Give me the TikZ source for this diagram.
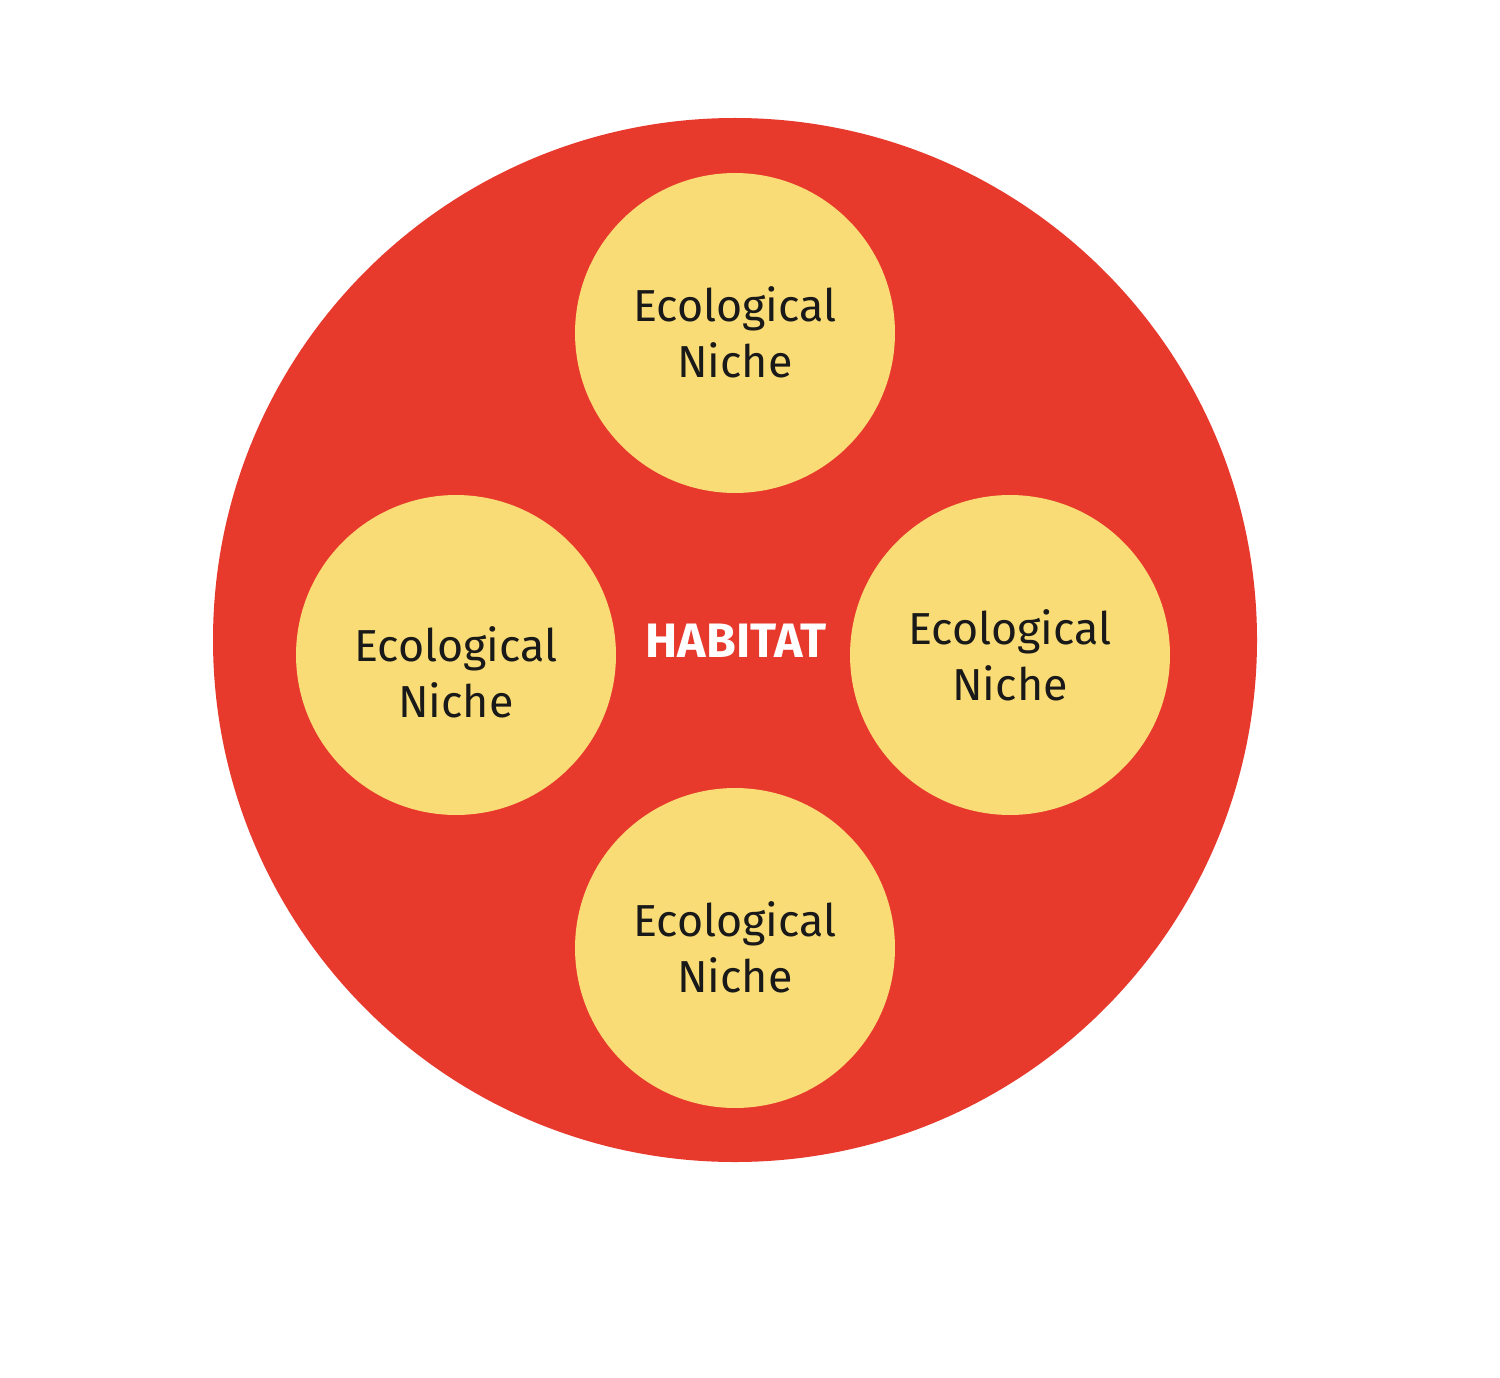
\documentclass[tikz,border=0pt]{standalone}
\usepackage{fontspec}
\setmainfont{Fira Sans}
\definecolor{habred}{HTML}{E8392D}
\definecolor{nicheyel}{HTML}{F9DC75}
\tikzset{
  niche/.style={circle,fill=nicheyel,minimum size=6.4cm,inner sep=0pt},
  nichetext/.style={align=center,font=\fontsize{25.5}{32}\selectfont,text=black!90}
}
\begin{document}
\begin{tikzpicture}[x=0.02cm,y=-0.02cm]
     \useasboundingbox (0,0) rectangle (1500,1378);
     \fill[habred] (735,640) circle(522*0.02cm);
     \node[niche] (top)    at (735,333)  {};
     \node[niche] (left)   at (456,655)  {};
     \node[niche] (right)  at (1010,655) {};
     \node[niche] (bottom) at (735,948)  {};
     \node[nichetext] (toptext)    at (735,332)  {Ecological\\Niche};
     \node[nichetext] (lefttext)   at (456,672)  {Ecological\\Niche};
     \node[nichetext] (righttext)  at (1010,655) {Ecological\\Niche};
     \node[nichetext] (bottomtext) at (735,947)  {Ecological\\Niche};
     \node[text=white,font=\fontsize{27.5}{30}\selectfont\bfseries] (habitat) at (736,641) {HABITAT};
    \end{tikzpicture}
\end{document}
